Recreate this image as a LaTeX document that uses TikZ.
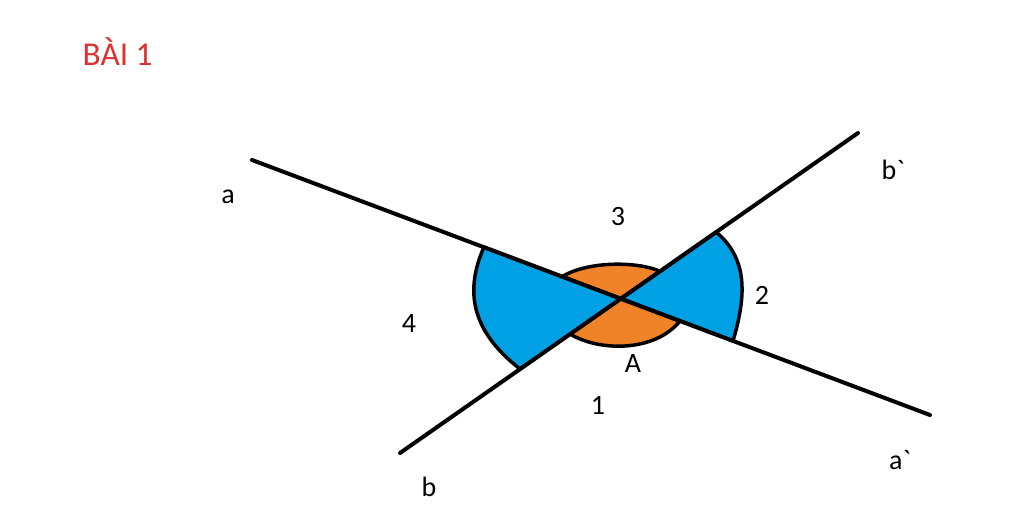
\documentclass[tikz,border=0pt]{standalone}
\usepackage{fontspec}
\setmainfont{Carlito}
\definecolor{myblue}{RGB}{0,160,228}
\definecolor{myorange}{RGB}{240,130,40}
\definecolor{myred}{RGB}{220,50,50}
\begin{document}
\begin{tikzpicture}[x=0.75pt,y=-0.75pt,
  reg/.style={draw=black,line width=2.6pt,line join=round},
  ln/.style={line width=3pt,line cap=round},
  lbl/.style={font=\fontsize{21pt}{24pt}\selectfont}]
\useasboundingbox (0,0) rectangle (1024,505);
\coordinate (a) at (252,160); \coordinate (a2) at (930,415);
\coordinate (b) at (400,453); \coordinate (b2) at (858,133);
\coordinate (O) at (620.8,298.7);
\filldraw[reg,fill=myorange] (562,276.6) .. controls (590,260) and (640,262) .. (660,271.3) -- (O) -- cycle;
\filldraw[reg,fill=myorange] (570,334) .. controls (600,352) and (655,352) .. (680,321) -- (O) -- cycle;
\filldraw[reg,fill=myblue] (484,247) .. controls (465,290) and (470,330) .. (520,369) -- (O) -- cycle;
\filldraw[reg,fill=myblue] (716,232) .. controls (750,260) and (745,300) .. (733,341) -- (O) -- cycle;
\draw[ln] (a) -- (a2);
\draw[ln] (b) -- (b2);
\node[lbl] (la) at (228,197) {a};
\node[lbl] (lb2) at (893,170) {b\textasciigrave};
\node[lbl] (l3) at (618,217) {3};
\node[lbl] (l2) at (762,295) {2};
\node[lbl] (l4) at (409,324) {4};
\node[lbl] (lA) at (633,364) {A};
\node[lbl] (l1) at (598,405) {1};
\node[lbl] (lb) at (429,487) {b};
\node[lbl] (la2) at (900,460) {a\textasciigrave};
\node[lbl,text=myred,anchor=west,font=\fontsize{25pt}{28pt}\selectfont] (t) at (78,52) {BÀI 1};
\end{tikzpicture}
\end{document}
